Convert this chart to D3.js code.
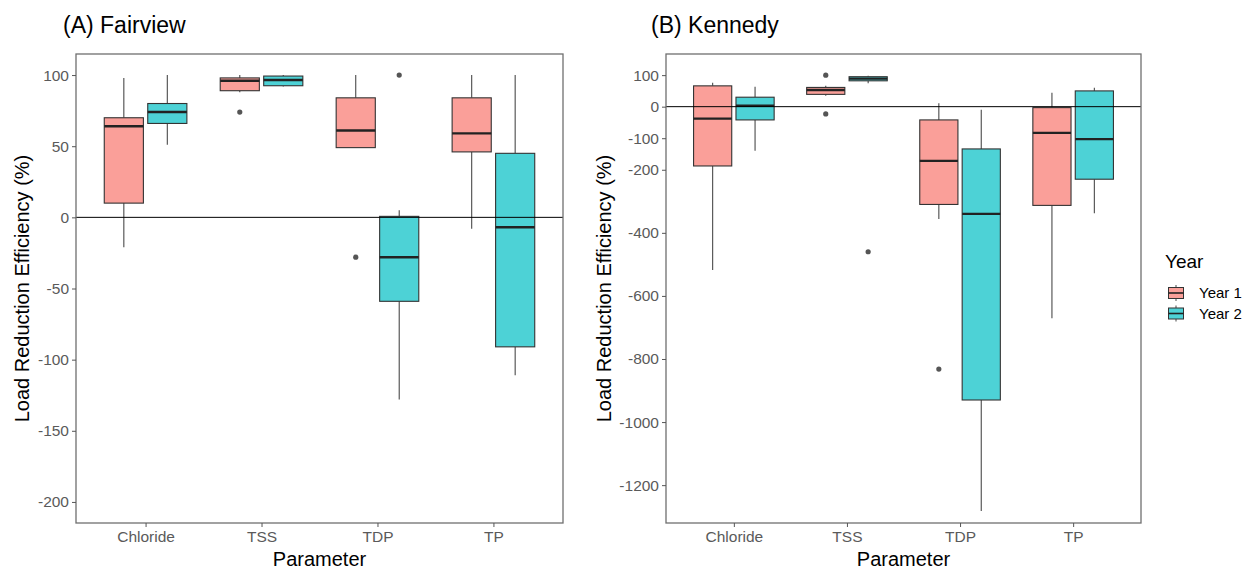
<!DOCTYPE html>
<html>
<head>
<meta charset="utf-8">
<script src="https://cdn.jsdelivr.net/npm/d3@7"></script>
<style>
  html, body { margin: 0; padding: 0; background: #fff; }
  svg { display: block; font-family: "Liberation Sans", Arial, sans-serif; }
</style>
</head>
<body>
<svg id="chart" width="1249" height="569"></svg>
<script>
// ---------------- DATA ----------------
const categories = ["Chloride", "TSS", "TDP", "TP"];
const years = ["Year 1", "Year 2"];
const yearColors = ["#F8766D", "#00BFC4"];

// box stats per category: [lower whisker, Q1, median, Q3, upper whisker]
const fairviewYear1 = [
  [-21, 10, 64, 70, 98],
  [88, 89, 96, 98, 100],
  [49, 49, 61, 84, 100],
  [-8, 46, 59, 84, 100]
];
const fairviewYear2 = [
  [51, 66, 74, 80, 100],
  [92, 92.5, 96.5, 99.3, 100],
  [-128, -59, -28, 0.7, 5],
  [-111, -91, -7, 45, 100]
];
const fairviewOutlierCategory = ["TSS", "TDP", "TDP"];
const fairviewOutlierYear = ["Year 1", "Year 1", "Year 2"];
const fairviewOutlierValue = [74, -28, 100];
const fairviewTicks = [100, 50, 0, -50, -100, -150, -200];

const kennedyYear1 = [
  [-518, -188, -38, 66, 76],
  [35, 39, 53, 61, 66],
  [-356, -310, -172, -42, 11],
  [-671, -313, -83, -3, 44]
];
const kennedyYear2 = [
  [-140, -42, 3, 30, 63],
  [74, 82, 89, 95, 98],
  [-1282, -930, -340, -134, -10],
  [-338, -230, -103, 50, 60]
];
const kennedyOutlierCategory = ["TSS", "TSS", "TSS", "TDP"];
const kennedyOutlierYear = ["Year 1", "Year 1", "Year 2", "Year 1"];
const kennedyOutlierValue = [100, -23, -460, -832];
const kennedyTicks = [100, 0, -100, -200, -400, -600, -800, -1000, -1200];

// ---------------- DRAW ----------------
const svg = d3.select("#chart");

function fillColor(c) {
  const col = d3.rgb(c);
  const a = 0.7;
  return d3.rgb(col.r * a + 255 * (1 - a), col.g * a + 255 * (1 - a), col.b * a + 255 * (1 - a)).toString();
}

function drawPanel(opt) {
  const g = svg.append("g");
  // discrete axis: point positions with 0.6 expansion on each side
  const xp = d3.scalePoint().domain(categories).range([opt.x0, opt.x1]).padding(0.6);
  const unit = xp.step();
  const y = d3.scaleLinear().domain(opt.domain).range([opt.y1, opt.y0]);
  const dodge = d3.scaleBand().domain(years).range([-0.375 * unit, 0.375 * unit]);
  const boxW = dodge.bandwidth() * 0.9;

  const series = [opt.year1, opt.year2];
  series.forEach((vals, si) => {
    const yr = years[si];
    const col = fillColor(yearColors[si]);
    vals.forEach((s, ci) => {
      const cx = xp(categories[ci]) + dodge(yr) + dodge.bandwidth() / 2;
      const [lo, q1, med, q3, hi] = s;
      g.append("line").attr("x1", cx).attr("x2", cx).attr("y1", y(hi)).attr("y2", y(q3))
        .attr("stroke", "#4a4a4a").attr("stroke-width", 1.1);
      g.append("line").attr("x1", cx).attr("x2", cx).attr("y1", y(q1)).attr("y2", y(lo))
        .attr("stroke", "#4a4a4a").attr("stroke-width", 1.1);
      g.append("rect").attr("x", cx - boxW / 2).attr("width", boxW)
        .attr("y", y(q3)).attr("height", Math.max(0.5, y(q1) - y(q3)))
        .attr("fill", col).attr("stroke", "#333").attr("stroke-width", 1.1);
      g.append("line").attr("x1", cx - boxW / 2).attr("x2", cx + boxW / 2)
        .attr("y1", y(med)).attr("y2", y(med))
        .attr("stroke", "#222").attr("stroke-width", 2.4);
    });
  });
  // outliers
  opt.outVal.forEach((v, i) => {
    const cx = xp(opt.outCat[i]) + dodge(opt.outYear[i]) + dodge.bandwidth() / 2;
    g.append("circle").attr("cx", cx).attr("cy", y(v)).attr("r", 2.6).attr("fill", "#555");
  });
  // zero line
  g.append("line").attr("x1", opt.x0).attr("x2", opt.x1).attr("y1", y(0)).attr("y2", y(0))
    .attr("stroke", "#000").attr("stroke-width", 1);

  // panel border
  g.append("rect").attr("x", opt.x0).attr("y", opt.y0).attr("width", opt.x1 - opt.x0)
    .attr("height", opt.y1 - opt.y0).attr("fill", "none").attr("stroke", "#6f6f6f").attr("stroke-width", 1.3);

  // axes
  const yAxis = d3.axisLeft(y).tickValues(opt.ticks).tickSize(4).tickPadding(3).tickFormat(d => String(d));
  const ya = g.append("g").attr("transform", `translate(${opt.x0},0)`).call(yAxis);
  ya.select(".domain").remove();
  ya.selectAll(".tick line").attr("stroke", "#555");
  ya.selectAll(".tick text").attr("fill", "#5a5a5a").style("font-size", "15.5px");

  const xAxis = d3.axisBottom(xp).tickSize(4).tickPadding(4);
  const xa = g.append("g").attr("transform", `translate(0,${opt.y1})`).call(xAxis);
  xa.select(".domain").remove();
  xa.selectAll(".tick line").attr("stroke", "#555");
  xa.selectAll(".tick text").attr("fill", "#5a5a5a").style("font-size", "15.5px");

  // titles
  g.append("text").attr("x", (opt.x0 + opt.x1) / 2).attr("y", 566).attr("text-anchor", "middle")
    .style("font-size", "20px").attr("fill", "#000").text("Parameter");
  g.append("text").attr("transform", `translate(${opt.ytx},${(opt.y0 + opt.y1) / 2}) rotate(-90)`)
    .attr("text-anchor", "middle").style("font-size", "20px").attr("fill", "#000")
    .text("Load Reduction Efficiency (%)");
  g.append("text").attr("x", opt.tx).attr("y", 33).style("font-size", "23px").attr("fill", "#000")
    .text(opt.title);
}

drawPanel({
  x0: 76, x1: 563, y0: 54, y1: 523,
  domain: [-214.8, 114.8],
  year1: fairviewYear1, year2: fairviewYear2,
  outCat: fairviewOutlierCategory, outYear: fairviewOutlierYear, outVal: fairviewOutlierValue,
  ticks: fairviewTicks, ytx: 29, tx: 63, title: "(A) Fairview"
});
drawPanel({
  x0: 666, x1: 1141, y0: 54, y1: 523,
  domain: [-1320, 167],
  year1: kennedyYear1, year2: kennedyYear2,
  outCat: kennedyOutlierCategory, outYear: kennedyOutlierYear, outVal: kennedyOutlierValue,
  ticks: kennedyTicks, ytx: 611, tx: 651, title: "(B) Kennedy"
});

// legend
const leg = svg.append("g");
leg.append("text").attr("x", 1165).attr("y", 268).style("font-size", "19px").attr("fill", "#000").text("Year");
years.forEach((yr, i) => {
  const ky = 284 + i * 20.5;
  const kx = 1167;
  const kw = 18, kh = 18;
  const cx = kx + kw / 2;
  leg.append("line").attr("x1", cx).attr("x2", cx).attr("y1", ky + 1).attr("y2", ky + kh - 1)
    .attr("stroke", "#4a4a4a").attr("stroke-width", 1);
  leg.append("rect").attr("x", kx + 1.5).attr("y", ky + 3.5).attr("width", kw - 3).attr("height", kh - 7)
    .attr("fill", fillColor(yearColors[i])).attr("stroke", "#333").attr("stroke-width", 1);
  leg.append("line").attr("x1", kx + 1.5).attr("x2", kx + kw - 1.5).attr("y1", ky + kh / 2).attr("y2", ky + kh / 2)
    .attr("stroke", "#222").attr("stroke-width", 1.6);
  leg.append("text").attr("x", 1199).attr("y", ky + kh / 2).attr("dy", "0.35em")
    .style("font-size", "15px").attr("fill", "#000").text(yr);
});
</script>
</body>
</html>
